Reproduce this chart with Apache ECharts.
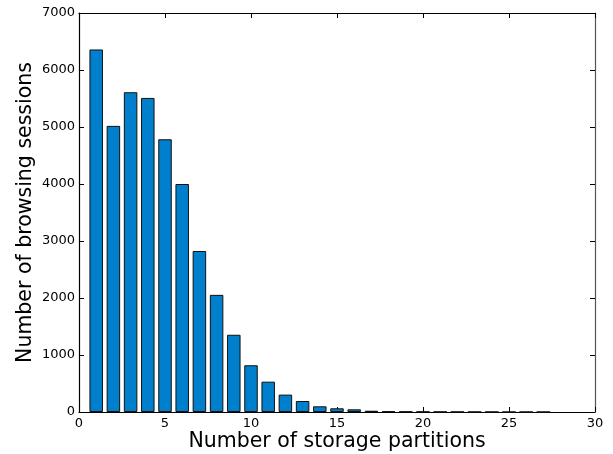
<!DOCTYPE html>
<html>
<head>
<meta charset="utf-8">
<script src="https://cdn.jsdelivr.net/npm/echarts@6/dist/echarts.min.js"></script>
<style>
  html, body { margin: 0; padding: 0; background: #fff; }
  #chart { width: 613px; height: 454px; }
</style>
</head>
<body>
<div id="chart"></div>
<script>
// Number of storage partitions per browsing session
const partitions = [1, 2, 3, 4, 5, 6, 7, 8, 9, 10, 11, 12, 13, 14, 15, 16, 17, 18, 19, 20, 21, 22, 23, 24, 25, 26, 27];
const sessions = [6360, 5020, 5610, 5510, 4785, 4000, 2825, 2055, 1355, 820, 532, 305, 193, 100, 65, 47, 22, 12, 8, 6, 4, 3, 2, 2, 1, 1, 1];
const xTicks = { min: 0, max: 30, interval: 5 };
const yTicks = { min: 0, max: 7000, interval: 1000 };

const FONT = 'DejaVu Sans';
const chart = echarts.init(document.getElementById('chart'), null, { renderer: 'canvas' });

const tickStyle = { show: true, inside: true, length: 5, lineStyle: { color: '#000', width: 1 } };
const lineStyle = { show: true, onZero: false, lineStyle: { color: '#000', width: 1.2 } };
const plain = v => String(v);

chart.setOption({
  animation: false,
  backgroundColor: '#fff',
  grid: { left: 79, right: 18, top: 13, bottom: 42, containLabel: false, outerBoundsMode: 'none' },
  xAxis: [
    {
      type: 'value', position: 'bottom',
      min: xTicks.min, max: xTicks.max, interval: xTicks.interval,
      name: 'Number of storage partitions', nameLocation: 'middle', nameGap: 19,
      nameMoveOverlap: false,
      nameTextStyle: { fontFamily: FONT, fontSize: 20.5, color: '#000', verticalAlign: 'top' },
      axisLine: lineStyle, axisTick: tickStyle,
      axisLabel: { fontFamily: FONT, fontSize: 13, color: '#000', margin: 5, formatter: plain },
      splitLine: { show: false }
    },
    {
      type: 'value', position: 'top',
      min: xTicks.min, max: xTicks.max, interval: xTicks.interval,
      axisLine: lineStyle, axisTick: tickStyle,
      axisLabel: { show: false }, splitLine: { show: false }
    }
  ],
  yAxis: [
    {
      type: 'value', position: 'left',
      min: yTicks.min, max: yTicks.max, interval: yTicks.interval,
      name: 'Number of browsing sessions', nameLocation: 'middle', nameGap: 43,
      nameMoveOverlap: false,
      nameTextStyle: { fontFamily: FONT, fontSize: 20.5, color: '#000' },
      axisLine: lineStyle, axisTick: tickStyle,
      axisLabel: { fontFamily: FONT, fontSize: 13, color: '#000', margin: 4, formatter: plain },
      splitLine: { show: false }
    },
    {
      type: 'value', position: 'right',
      min: yTicks.min, max: yTicks.max, interval: yTicks.interval,
      axisLine: { show: true, onZero: false, lineStyle: { color: '#555', width: 1.2 } },
      axisTick: tickStyle,
      axisLabel: { show: false }, splitLine: { show: false }
    }
  ],
  series: [
    {
      type: 'bar',
      xAxisIndex: 0, yAxisIndex: 0,
      barWidth: 13.5,
      data: partitions.map((p, i) => [p, sessions[i]]),
      itemStyle: { color: '#0080cc', borderColor: '#111', borderWidth: 1 }
    }
  ]
});
</script>
</body>
</html>
